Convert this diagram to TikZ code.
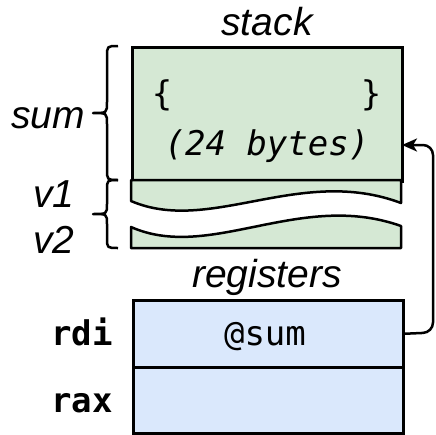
\documentclass[tikz,border=0pt]{standalone}
\usepackage{fontspec}
\setmainfont{Liberation Sans}
\newfontfamily\monof{DejaVu Sans Mono}
\usetikzlibrary{arrows.meta}
\definecolor{stackgreen}{HTML}{D5E8D4}
\definecolor{regblue}{HTML}{DAE8FC}
\begin{document}
\begin{tikzpicture}[x=1pt,y=-1pt,line width=2.5pt,
  cell/.style={draw,inner sep=0pt,anchor=north west,minimum width=270pt},
  lbl/.style={font=\fontsize{39}{41}\selectfont\itshape,anchor=base,inner sep=0pt},
  code/.style={font=\fontsize{34}{36}\selectfont\monof,anchor=base,inner sep=0pt},
  regname/.style={font=\fontsize{34}{36}\selectfont\monof\bfseries,anchor=base,inner sep=0pt},
  brace/.style={line width=2.5pt,line join=round},
  arr/.style={-{Stealth[length=15pt,width=13pt,inset=4pt]},line width=2.5pt}]
\useasboundingbox (0,0) rectangle (436,434);
% stack
\node[cell,fill=stackgreen,minimum height=134pt] (sumblk) at (131,46) {};
\node[lbl] (stacklbl) at (267,35) {stack};
\node[code] (lb) at (162,105) {\{};
\node[code] (rb) at (371,105) {\}};
\node[code,font=\fontsize{34}{36}\selectfont\monof\itshape] (bytes) at (267,155) {(24 bytes)};
% v1 / v2 torn pieces
\draw[fill=stackgreen,line join=round] (131,180) -- (401,180) -- (401,203)
  .. controls (300,165) and (210,235) .. (131,201) -- cycle;
\draw[fill=stackgreen,line join=round] (131,227)
  .. controls (210,262) and (300,190) .. (401,226) -- (401,248) -- (131,248) -- cycle;
% braces
\draw[brace] (118,46) .. controls (107,46) .. (107,57) -- (107,102)
  .. controls (107,113) .. (93,113) .. controls (107,113) .. (107,124)
  -- (107,169) .. controls (107,180) .. (118,180);
\draw[brace] (118,180) .. controls (107,180) .. (107,190) -- (107,204)
  .. controls (107,214) .. (93,214) .. controls (107,214) .. (107,224)
  -- (107,238) .. controls (107,248) .. (118,248);
\node[lbl] (sumlbl) at (48,128) {sum};
\node[lbl] (v1lbl) at (54,207) {v1};
\node[lbl] (v2lbl) at (54,253) {v2};
% registers
\node[lbl] (reglbl) at (267,287) {registers};
\node[cell,fill=regblue,minimum height=67pt] (rdibox) at (132,299) {};
\node[cell,fill=regblue,minimum height=66pt] (raxbox) at (132,366) {};
\node[code] (atsum) at (265,345) {@sum};
\node[regname] (rdi) at (82,345) {rdi};
\node[regname] (rax) at (82,412) {rax};
% pointer
\coordinate (hit) at (402,145);
\draw[arr,rounded corners=10pt] (rdibox.east) -- (433,332.5) -- (433,145) -- (hit);
\end{tikzpicture}
\end{document}
